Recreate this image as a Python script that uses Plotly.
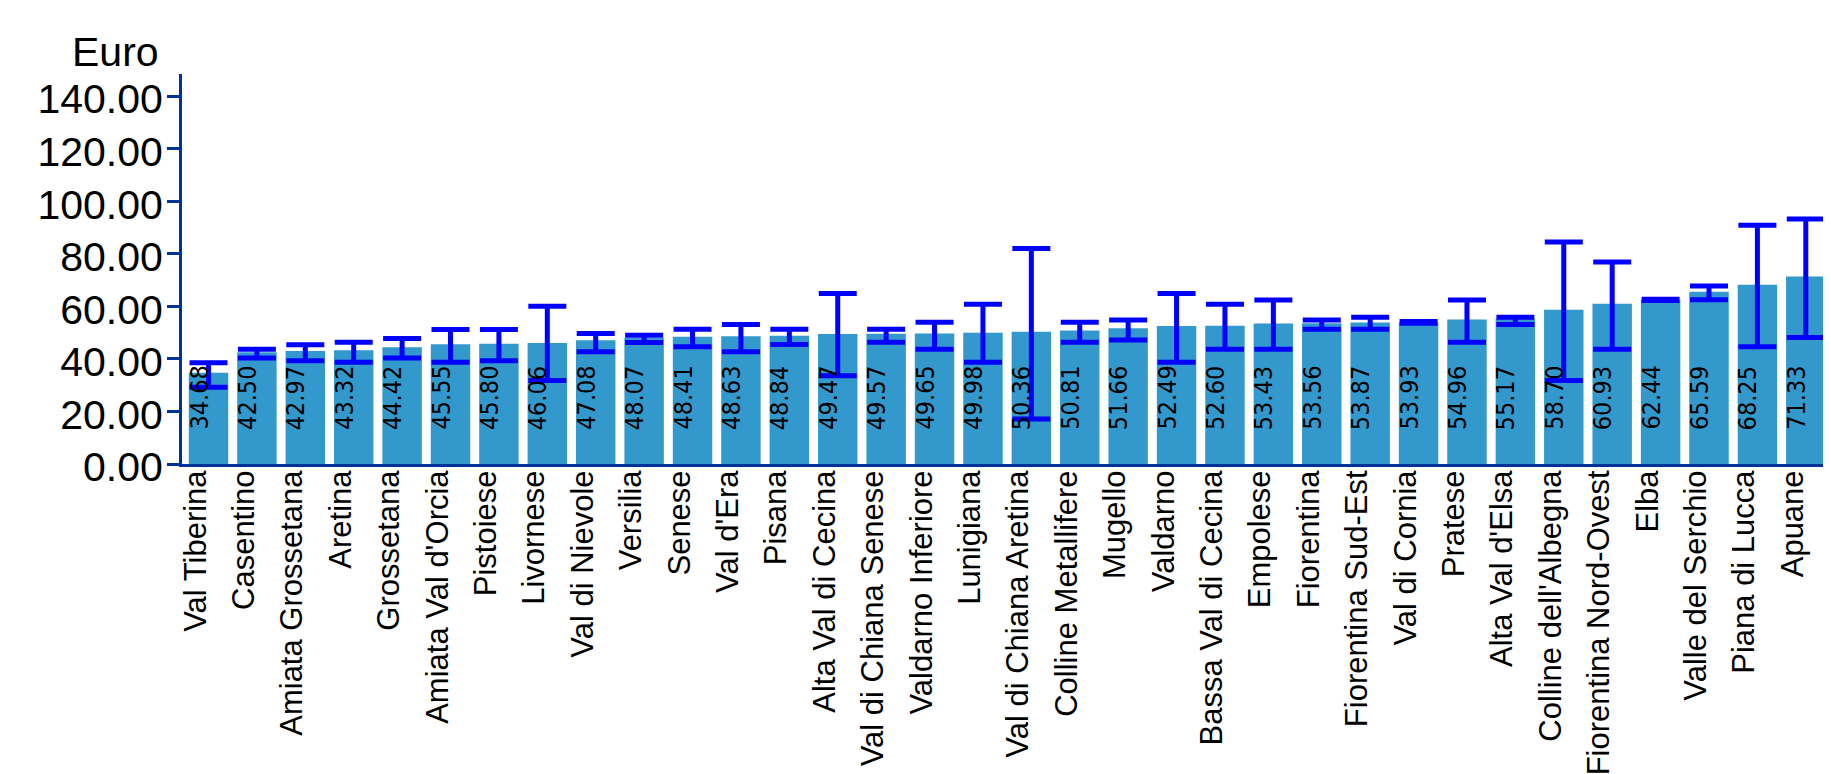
import plotly.graph_objects as go

categories = ["Val Tiberina", "Casentino", "Amiata Grossetana", "Aretina", "Grossetana",
              "Amiata Val d'Orcia", "Pistoiese", "Livornese", "Val di Nievole", "Versilia",
              "Senese", "Val d'Era", "Pisana", "Alta Val di Cecina", "Val di Chiana Senese",
              "Valdarno Inferiore", "Lunigiana", "Val di Chiana Aretina", "Colline Metallifere",
              "Mugello", "Valdarno", "Bassa Val di Cecina", "Empolese", "Fiorentina",
              "Fiorentina Sud-Est", "Val di Cornia", "Pratese", "Alta Val d'Elsa",
              "Colline dell'Albegna", "Fiorentina Nord-Ovest", "Elba", "Valle del Serchio",
              "Piana di Lucca", "Apuane"]

values = [34.68, 42.50, 42.97, 43.32, 44.42, 45.55, 45.80, 46.06, 47.08, 48.07,
          48.41, 48.63, 48.84, 49.47, 49.57, 49.65, 49.98, 50.36, 50.81, 51.66,
          52.49, 52.60, 53.43, 53.56, 53.87, 53.93, 54.96, 55.17, 58.70, 60.93,
          62.44, 65.59, 68.25, 71.33]

upper = [38.5, 43.7, 45.4, 46.3, 47.8, 51.2, 51.2, 60.0, 49.7, 49.0,
         51.3, 53.1, 51.3, 64.9, 51.3, 53.9, 60.8, 82.0, 53.9, 54.8,
         64.9, 60.8, 62.4, 54.8, 55.8, 54.2, 62.4, 55.8, 84.5, 76.9,
         62.7, 67.7, 90.8, 93.2]

lower = [29.2, 40.3, 39.3, 38.7, 40.3, 38.7, 39.3, 31.8, 42.7, 46.2,
         44.6, 42.7, 45.5, 33.6, 46.3, 43.7, 38.7, 17.1, 46.3, 47.2,
         38.7, 43.7, 43.7, 51.3, 51.3, 53.6, 46.3, 53.1, 31.8, 43.7,
         62.2, 62.5, 44.6, 48.1]

y_ticks = [0, 20, 40, 60, 80, 100, 120, 140]

AXIS = "#003399"
BAR = "#3399CC"
ERR = "#0000FF"

err_plus = [u - v for u, v in zip(upper, values)]
err_minus = [v - l for v, l in zip(values, lower)]

fig = go.Figure()
fig.add_trace(go.Bar(
    x=categories, y=values,
    marker=dict(color=BAR, line=dict(width=0)),
    error_y=dict(type="data", symmetric=False, array=err_plus, arrayminus=err_minus,
                 color=ERR, thickness=5, width=19),
    hoverinfo="x+y",
))

annotations = []
for c, v in zip(categories, values):
    annotations.append(dict(
        x=c, y=0, xref="x", yref="y", text=f"{v:.2f}", showarrow=False,
        textangle=-90, xanchor="center", yanchor="bottom", xshift=-10, yshift=32,
        font=dict(family="DejaVu Sans Condensed, DejaVu Sans, sans-serif", size=25, color="black"),
    ))

annotations.append(dict(
    x=0, y=1, xref="paper", yref="paper", text="Euro", showarrow=False,
    xanchor="right", yanchor="bottom", xshift=-21, yshift=-3,
    font=dict(family="Liberation Sans, Arial, sans-serif", size=41, color="black"),
))

# the page body adds an 8 px offset; the figure is sized to compensate
fig.update_layout(
    width=1823, height=766, autosize=False,
    margin=dict(l=174, r=1, t=66, b=310, pad=0),
    paper_bgcolor="white", plot_bgcolor="white",
    bargap=0.185,
    showlegend=False,
    annotations=annotations,
    xaxis=dict(
        type="category", tickangle=-90, ticks="", showline=True, linewidth=3,
        linecolor=AXIS, showgrid=False, zeroline=False, automargin=False,
        tickfont=dict(family="Liberation Sans, Arial, sans-serif", size=31, color="black"),
        ticklabelshift=-13, ticklabelstandoff=-9,
    ),
    yaxis=dict(
        range=[0, 148.4], tickvals=y_ticks, tickformat=".2f",
        ticks="outside", ticklen=12, tickwidth=3, tickcolor=AXIS,
        showline=True, linewidth=3, linecolor=AXIS, showgrid=False, zeroline=False,
        automargin=False,
        tickfont=dict(family="Liberation Sans, Arial, sans-serif", size=41, color="black"),
        ticklabelshift=3, ticklabelstandoff=-4,
    ),
)

fig.write_html("out.html")
